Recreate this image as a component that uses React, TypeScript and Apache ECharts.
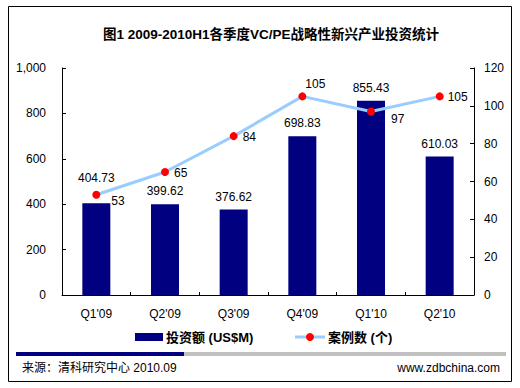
import React, { useEffect, useRef } from "react";
import * as echarts from "echarts";

const categories = ["Q1'09", "Q2'09", "Q3'09", "Q4'09", "Q1'10", "Q2'10"];
const investment = [404.73, 399.62, 376.62, 698.83, 855.43, 610.03];
const cases = [53, 65, 84, 105, 97, 105];
const leftTicks = [0, 200, 400, 600, 800, 1000];
const rightTicks = [0, 20, 40, 60, 80, 100, 120];

const FONT = "'Liberation Sans', Arial, 'Noto Sans CJK SC', sans-serif";

export default function App() {
  const ref = useRef<HTMLDivElement>(null);
  useEffect(() => {
    if (!ref.current) return;
    const chart = echarts.init(ref.current, null, { renderer: "svg" });
    const barLabelOffsets = [[0, -12], [0, 0], [0, 0], [0, 0], [0, 0], [0, 0]];
    const lineLabelCfg = [
      { position: "right", offset: [7, 6] },
      { position: "right", offset: [1, 1] },
      { position: "right", offset: [1, 1] },
      { position: "top", offset: [13, 2] },
      { position: "right", offset: [12, 7] },
      { position: "right", offset: [0, 1] },
    ];
    chart.setOption({
      animation: false,
      textStyle: { fontFamily: FONT },
      title: {
        text: "图1 2009-2010H1各季度VC/PE战略性新兴产业投资统计",
        left: 266,
        textAlign: "center",
        top: 23,
        textStyle: { fontSize: 13.5, fontWeight: "bold", color: "#000", fontFamily: FONT },
      },
      grid: { left: 62, right: 46, top: 68, bottom: 93, containLabel: false },
      xAxis: {
        type: "category",
        data: categories,
        axisLine: { lineStyle: { color: "#000", width: 1 } },
        axisTick: { show: true, inside: true, length: 3, alignWithLabel: false, lineStyle: { color: "#000" } },
        axisLabel: { color: "#000", fontSize: 12, margin: 13, fontFamily: FONT },
      },
      yAxis: [
        {
          type: "value",
          min: 0,
          max: 1000,
          interval: 200,
          axisLine: { show: true, lineStyle: { color: "#000" } },
          axisTick: { show: true, inside: true, length: 4, lineStyle: { color: "#000" } },
          splitLine: { show: false },
          axisLabel: {
            color: "#000",
            fontSize: 12,
            margin: 16,
            fontFamily: FONT,
            formatter: (v: number) => v.toLocaleString("en-US"),
          },
        },
        {
          type: "value",
          min: 0,
          max: 120,
          interval: 20,
          axisLine: { show: true, lineStyle: { color: "#000" } },
          axisTick: { show: true, inside: true, length: 4, lineStyle: { color: "#000" } },
          splitLine: { show: false },
          axisLabel: { color: "#000", fontSize: 12, margin: 10, fontFamily: FONT },
        },
      ],
      legend: { show: false },
      series: [
        {
          name: "投资额(US$M)",
          type: "bar",
          yAxisIndex: 0,
          barWidth: 28,
          itemStyle: { color: "#000080" },
          data: investment.map((v, i) => ({
            value: v,
            label: { offset: barLabelOffsets[i] },
          })),
          label: {
            show: true,
            position: "top",
            distance: 7,
            color: "#000",
            fontSize: 12,
            fontFamily: FONT,
            formatter: (p: any) => p.value.toFixed(2),
          },
          z: 2,
        },
        {
          name: "案例数(个)",
          type: "line",
          yAxisIndex: 1,
          symbol: "circle",
          symbolSize: 8,
          lineStyle: { color: "#99CCFF", width: 3 },
          itemStyle: { color: "#FF0000" },
          data: cases.map((v, i) => ({
            value: v,
            label: { position: lineLabelCfg[i].position, offset: lineLabelCfg[i].offset },
          })),
          label: { show: true, color: "#000", fontSize: 12, fontFamily: FONT, distance: 4 },
          z: 3,
        },
      ],
      graphic: [
        {
          type: "rect",
          shape: { x: 8.5, y: 6.5, width: 503, height: 375 },
          style: { fill: "none", stroke: "#000", lineWidth: 1 },
          silent: true,
        },
        {
          type: "rect",
          shape: { x: 135, y: 333, width: 28, height: 8 },
          style: { fill: "#000080" },
        },
        {
          type: "text",
          x: 166,
          y: 337,
          style: {
            text: "投资额 (US$M)",
            fill: "#000",
            font: "bold 13px " + FONT,
            verticalAlign: "middle",
          },
        },
        {
          type: "line",
          shape: { x1: 295, y1: 337, x2: 325, y2: 337 },
          style: { stroke: "#99CCFF", lineWidth: 3 },
        },
        {
          type: "circle",
          shape: { cx: 310, cy: 337, r: 4 },
          style: { fill: "#FF0000" },
        },
        {
          type: "text",
          x: 328,
          y: 337,
          style: {
            text: "案例数 (个)",
            fill: "#000",
            font: "bold 13px " + FONT,
            verticalAlign: "middle",
          },
        },
        {
          type: "rect",
          shape: { x: 16, y: 352, width: 490, height: 4 },
          style: { fill: "#C0C0C0" },
        },
        {
          type: "rect",
          shape: { x: 16, y: 352, width: 168, height: 4 },
          style: { fill: "#000080" },
        },
        {
          type: "text",
          x: 22,
          y: 368,
          style: {
            text: "来源：清科研究中心 2010.09",
            fill: "#000",
            font: "12px " + FONT,
            verticalAlign: "middle",
          },
        },
        {
          type: "text",
          x: 500,
          y: 368,
          style: {
            text: "www.zdbchina.com",
            fill: "#000",
            font: "12px " + FONT,
            align: "right",
            verticalAlign: "middle",
          },
        },
      ],
    });
    return () => chart.dispose();
  }, []);
  return <div ref={ref} style={{ width: 520, height: 388, position: "absolute", left: 0, top: 0 }} />;
}
